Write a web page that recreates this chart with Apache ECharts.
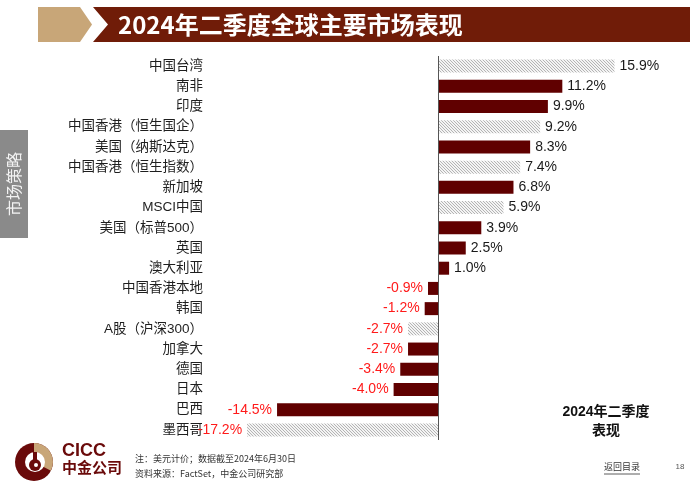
<!DOCTYPE html>
<html>
<head>
<meta charset="utf-8">
<script src="https://cdn.jsdelivr.net/npm/echarts@6/dist/echarts.min.js"></script>
<style>
html,body{margin:0;padding:0;background:#fff;}
#chart{width:700px;height:490px;}
</style>
</head>
<body>
<div id="chart"></div>
<script>
// ---- data ----
var categories = ['中国台湾','南非','印度','中国香港（恒生国企）','美国（纳斯达克）','中国香港（恒生指数）','新加坡','MSCI中国','美国（标普500）','英国','澳大利亚','中国香港本地','韩国','A股（沪深300）','加拿大','德国','日本','巴西','墨西哥'];
var values = [15.9, 11.2, 9.9, 9.2, 8.3, 7.4, 6.8, 5.9, 3.9, 2.5, 1.0, -0.9, -1.2, -2.7, -2.7, -3.4, -4.0, -14.5, -17.2];
var hatchedMarkets = ['中国台湾','中国香港（恒生国企）','中国香港（恒生指数）','MSCI中国','A股（沪深300）','墨西哥'];
var titleText = '2024年二季度全球主要市场表现';
var sideText = '市场策略';
var cornerNote = ['2024年二季度','表现'];
var footNotes = ['注：美元计价；数据截至2024年6月30日','资料来源：FactSet，中金公司研究部'];

// ---- hatch pattern ----
var pc = document.createElement('canvas');
pc.width = 3; pc.height = 3;
var g = pc.getContext('2d');
g.fillStyle = '#f4f4f4'; g.fillRect(0,0,3,3);
g.fillStyle = '#b4b4b4';
g.fillRect(0,0,1,1); g.fillRect(1,1,1,1); g.fillRect(2,2,1,1);

var MAROON = '#600000';
var CJK = '"Liberation Sans", Arial, "Noto Sans CJK SC", sans-serif';

var data = values.map(function(v, i){
  var hatched = hatchedMarkets.indexOf(categories[i]) >= 0;
  return {
    value: v,
    itemStyle: { color: hatched ? {image: pc, repeat: 'repeat'} : MAROON },
    label: {
      position: v >= 0 ? 'right' : 'left',
      color: v >= 0 ? '#1a1a1a' : '#ff1a1a'
    }
  };
});

var chart = echarts.init(document.getElementById('chart'), null, {renderer: 'canvas'});
chart.setOption({
  animation: false,
  textStyle: { fontFamily: CJK },
  grid: { left: 216, right: 40, top: 56, bottom: 50, containLabel: false },
  xAxis: {
    type: 'value', min: -20, max: 20, show: false
  },
  yAxis: {
    type: 'category', data: categories, inverse: true,
    axisLine: { show: false, onZero: false }, axisTick: { show: false },
    axisLabel: { color: '#1e1e1e', fontSize: 13.5, margin: 13, fontFamily: CJK }
  },
  series: [{
    type: 'bar', data: data, barWidth: 13,
    label: {
      show: true, fontSize: 14, distance: 5, fontFamily: CJK,
      formatter: function(p){ return p.value.toFixed(1) + '%'; }
    },
    markLine: {
      silent: true, symbol: 'none', label: { show: false },
      lineStyle: { color: '#555', width: 1, type: 'solid' },
      data: [{ xAxis: 0 }]
    }
  }],
  graphic: [
    { type: 'polygon', shape: { points: [[38,7],[80,7],[92,24.5],[80,42],[38,42]] }, style: { fill: '#C8A678' } },
    { type: 'polygon', shape: { points: [[93,7],[690,7],[690,42],[93,42],[108,24.5]] }, style: { fill: '#701C08' } },
    { type: 'text', x: 118, y: 25, style: { text: titleText, fill: '#fff', font: 'bold 24px "Noto Sans CJK SC", sans-serif', textVerticalAlign: 'middle' } },
    { type: 'rect', shape: { x: 0, y: 130, width: 28, height: 108 }, style: { fill: '#8a8a8a' } },
    { type: 'text', x: 14, y: 184, rotation: Math.PI/2, style: { text: sideText, fill: '#f2f2f2', font: '16px "Noto Sans CJK SC", sans-serif', textAlign: 'center', textVerticalAlign: 'middle' } },
    { type: 'text', x: 606, y: 412, style: { text: cornerNote[0], fill: '#111', font: 'bold 14px "Liberation Sans", "Noto Sans CJK SC", sans-serif', textAlign: 'center', textVerticalAlign: 'middle' } },
    { type: 'text', x: 606, y: 430, style: { text: cornerNote[1], fill: '#111', font: 'bold 14px "Noto Sans CJK SC", sans-serif', textAlign: 'center', textVerticalAlign: 'middle' } },
    // logo
    { type: 'circle', shape: { cx: 34, cy: 462, r: 19 }, style: { fill: '#6a0a0a' } },
    { type: 'sector', shape: { cx: 34, cy: 462, r: 19, r0: 0, startAngle: -Math.PI/2, endAngle: Math.PI*0.15, clockwise: true }, style: { fill: '#C8A678' } },
    { type: 'circle', shape: { cx: 35, cy: 462, r: 10 }, style: { fill: '#fff' } },
    { type: 'circle', shape: { cx: 35, cy: 465, r: 6 }, style: { fill: '#6a0a0a' } },
    { type: 'rect', shape: { x: 33, y: 452, width: 4, height: 9 }, style: { fill: '#6a0a0a' } },
    { type: 'circle', shape: { cx: 36, cy: 465, r: 2 }, style: { fill: '#fff' } },
    { type: 'text', x: 62, y: 451, style: { text: 'CICC', fill: '#6a0a0a', font: 'bold 18px "Liberation Sans", Arial, sans-serif', textVerticalAlign: 'middle' } },
    { type: 'text', x: 62, y: 467, style: { text: '中金公司', fill: '#6a0a0a', font: 'bold 15px "Noto Sans CJK SC", sans-serif', textVerticalAlign: 'middle' } },
    { type: 'text', x: 135, y: 459, style: { text: footNotes[0], fill: '#333', font: '9px "Noto Sans CJK SC", sans-serif', textVerticalAlign: 'middle' } },
    { type: 'text', x: 135, y: 474, style: { text: footNotes[1], fill: '#333', font: '9px "Noto Sans CJK SC", sans-serif', textVerticalAlign: 'middle' } },
    { type: 'text', x: 622, y: 467, style: { text: '返回目录', fill: '#333', font: '9px "Noto Sans CJK SC", sans-serif', textAlign: 'center', textVerticalAlign: 'middle' } },
    { type: 'line', shape: { x1: 604, y1: 474, x2: 640, y2: 474 }, style: { stroke: '#333', lineWidth: 0.8 } },
    { type: 'text', x: 680, y: 467, style: { text: '18', fill: '#555', font: '8px "Liberation Sans", sans-serif', textAlign: 'center', textVerticalAlign: 'middle' } }
  ]
});
</script>
</body>
</html>
